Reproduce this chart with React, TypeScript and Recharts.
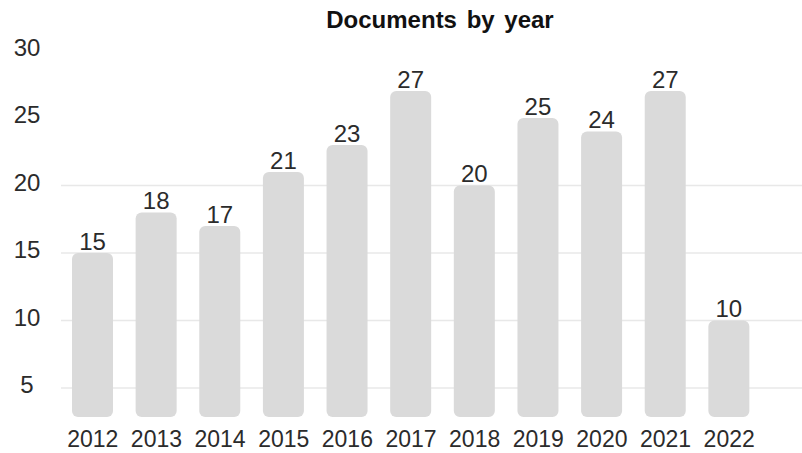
import { Bar, BarChart, CartesianGrid, LabelList, XAxis, YAxis } from "recharts";

const years = ["2012", "2013", "2014", "2015", "2016", "2017", "2018", "2019", "2020", "2021", "2022"];
const documents = [15, 18, 17, 21, 23, 27, 20, 25, 24, 27, 10];
const yTicks = [5, 10, 15, 20, 25, 30];
const gridValues = [5, 10, 15, 20];

const data = years.map((year, i) => ({ year, documents: documents[i] }));

const FONT = "'Liberation Sans', Arial, sans-serif";
const TEXT = "#2b2b2b";

// y labels sit centred in the left gutter, a touch above their value
function YTick({ y, payload }: { y?: number; payload?: { value: number } }) {
  return (
    <text x={27} y={(y ?? 0) - 3} textAnchor="middle" dominantBaseline="central" fontSize={24} fill={TEXT}>
      {payload?.value}
    </text>
  );
}

export default function App() {
  return (
    <div style={{ position: "absolute", left: 0, top: 0, width: 802, height: 453, background: "#fff", fontFamily: FONT }}>
      <div
        style={{
          position: "absolute",
          left: 0,
          width: 880,
          top: 6,
          textAlign: "center",
          fontSize: 24,
          fontWeight: 700,
          color: "#111",
          wordSpacing: 3,
        }}
      >
        Documents by year
      </div>
      <BarChart width={802} height={453} data={data} margin={{ top: 50.5, right: 0, bottom: 0, left: 0 }}>
        <CartesianGrid vertical={false} horizontalValues={gridValues} stroke="#e8e8e8" strokeWidth={1.5} />
        <XAxis
          dataKey="year"
          axisLine={false}
          tickLine={false}
          height={36}
          tickMargin={8}
          padding={{ left: 0, right: 41 }}
          tick={{ fontSize: 23, fill: TEXT, fontFamily: FONT }}
          interval={0}
        />
        <YAxis
          width={61}
          domain={[2.85, 30]}
          allowDataOverflow
          ticks={yTicks}
          axisLine={false}
          tickLine={false}
          tick={<YTick />}
        />
        <Bar dataKey="documents" fill="#dadada" barSize={41} radius={6} isAnimationActive={false}>
          <LabelList dataKey="documents" position="top" offset={3} fontSize={24} fill={TEXT} fontFamily={FONT} />
        </Bar>
      </BarChart>
    </div>
  );
}
